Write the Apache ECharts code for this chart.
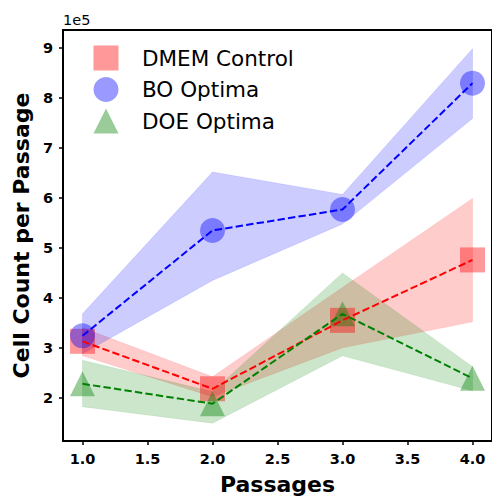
<!DOCTYPE html>
<html>
<head>
<meta charset="utf-8">
<script src="https://cdn.jsdelivr.net/npm/echarts@6/dist/echarts.min.js"></script>
<style>html,body{margin:0;padding:0;background:#fff}#c{width:492px;height:500px}</style>
</head>
<body>
<div id="c"></div>
<script>
// ---- data (cell counts per passage) ----
var passages = [1, 2, 3, 4];
var dmemMean = [313000, 218000, 355000, 476000];
var dmemLow  = [284000, 202000, 300000, 352000];
var dmemHigh = [340000, 242000, 421000, 599000];
var boMean   = [324000, 535000, 577000, 830000];
var boLow    = [288000, 435000, 548000, 759000];
var boHigh   = [368000, 652000, 607000, 899000];
var doeMean  = [228000, 188000, 368000, 239000];
var doeLow   = [182000, 149000, 284000, 214000];
var doeHigh  = [275000, 212000, 450000, 262000];
var xTicks = [1.0, 1.5, 2.0, 2.5, 3.0, 3.5, 4.0];
var yTicks = [200000, 300000, 400000, 500000, 600000, 700000, 800000, 900000];
var seriesNames = ['DMEM Control', 'BO Optima', 'DOE Optima'];

var FONT = 'DejaVu Sans';
function pts(ys) { return passages.map(function (x, i) { return [x, ys[i]]; }); }

function band(key, lo, hi, rgb) {
  var data = passages.map(function (x, i) { return [x, lo[i], hi[i]]; });
  return {
    type: 'custom', name: key + ' band', z: 1, silent: true,
    data: data,
    encode: { x: 0, y: [1, 2] },
    renderItem: function (params, api) {
      if (params.dataIndex !== 0) return null;
      var top = [], bot = [];
      for (var i = 0; i < data.length; i++) {
        top.push(api.coord([data[i][0], data[i][2]]));
        bot.unshift(api.coord([data[i][0], data[i][1]]));
      }
      return {
        type: 'polygon',
        shape: { points: top.concat(bot) },
        style: { fill: 'rgba(' + rgb + ',0.2)', stroke: 'rgba(' + rgb + ',0.12)', lineWidth: 0.8 }
      };
    }
  };
}
function marks(name, ys, sym, rgb) {
  return { type: 'scatter', name: name, data: pts(ys), symbol: sym, symbolSize: 25, z: 2,
    itemStyle: { color: 'rgba(' + rgb + ',0.5)' } };
}
function line(name, ys, color) {
  return { type: 'line', name: name + ' line', data: pts(ys), symbol: 'none', z: 3,
    lineStyle: { color: color, width: 2, type: [7.4, 3.2] } };
}

var series = [
  band('r', dmemLow, dmemHigh, '255,0,0'),
  band('b', boLow, boHigh, '0,0,255'),
  band('g', doeLow, doeHigh, '0,128,0'),
  marks(seriesNames[0], dmemMean, 'rect', '255,0,0'),
  marks(seriesNames[1], boMean, 'circle', '0,0,255'),
  marks(seriesNames[2], doeMean, 'triangle', '0,128,0'),
  line(seriesNames[0], dmemMean, '#ff0000'),
  line(seriesNames[1], boMean, '#0000ff'),
  line(seriesNames[2], doeMean, '#008000')
];

var chart = echarts.init(document.getElementById('c'), null, { renderer: 'svg' });
chart.setOption({
  animation: false,
  backgroundColor: '#fff',
  textStyle: { fontFamily: FONT },
  grid: { left: 63, top: 30, width: 430, height: 418, show: true, borderColor: '#000', borderWidth: 2 },
  legend: {
    data: seriesNames, orient: 'vertical', left: 88.5, top: 40.5, itemWidth: 25, itemHeight: 25, itemGap: 6.5,
    textStyle: { fontFamily: FONT, fontSize: 21.5, color: '#000', padding: [0, 0, 0, 18.5] },
    selectedMode: false
  },
  xAxis: {
    type: 'value', min: 0.85, max: 4.15,
    name: 'Passages', nameLocation: 'middle', nameGap: 32,
    nameTextStyle: { fontFamily: FONT, fontWeight: 'bold', fontSize: 22, color: '#000' },
    axisLine: { show: true, lineStyle: { color: '#000', width: 2 } },
    axisTick: { show: true, length: 4, lineStyle: { color: '#000', width: 1.5 }, customValues: xTicks },
    axisLabel: { customValues: xTicks, margin: 10, fontFamily: FONT, fontWeight: 'bold', fontSize: 14.5, color: '#000',
      formatter: function (v) { return v.toFixed(1); } },
    splitLine: { show: false }
  },
  yAxis: {
    type: 'value', min: 113400, max: 936400,
    name: 'Cell Count per Passage', nameLocation: 'middle', nameGap: 24, nameRotate: 90,
    nameTextStyle: { fontFamily: FONT, fontWeight: 'bold', fontSize: 22, color: '#000' },
    axisLine: { show: true, lineStyle: { color: '#000', width: 2 } },
    axisTick: { show: true, length: 4, lineStyle: { color: '#000', width: 1.5 }, customValues: yTicks },
    axisLabel: { customValues: yTicks, margin: 10, fontFamily: FONT, fontWeight: 'bold', fontSize: 14.5, color: '#000',
      formatter: function (v) { return String(Math.round(v / 100000)); } },
    splitLine: { show: false }
  },
  graphic: [{ type: 'text', left: 63, top: 12,
    style: { text: '1e5', fontFamily: FONT, fontSize: 14.5, fill: '#000' } }],
  series: series
});
</script>
</body>
</html>
